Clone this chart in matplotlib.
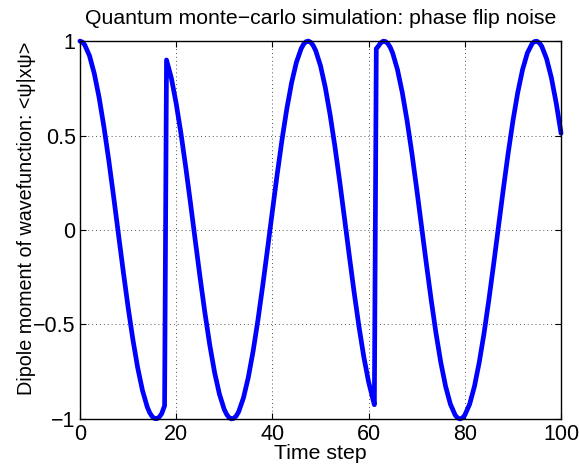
import matplotlib
matplotlib.use("Agg")
import matplotlib.pyplot as plt

# Dipole moment <psi|x psi>, in three pieces split at the phase flips
seg1_t = [0, 0.5, 1, 2, 3, 4, 5, 6, 7, 8, 9, 10, 11, 12, 13, 14, 14.5, 15, 15.5, 16,
          16.5, 17, 17.6]
seg1_y = [1.000, 0.995, 0.980, 0.922, 0.827, 0.700, 0.545, 0.369, 0.178, -0.020, -0.217,
          -0.406, -0.578, -0.728, -0.849, -0.937, -0.967, -0.987, -0.998, -0.999,
          -0.990, -0.972, -0.930]

seg2_t = [18, 19, 20, 21, 22, 23, 24, 25, 26, 27, 28, 29, 30, 30.5, 31, 31.5, 32, 32.5,
          33, 34, 35, 36, 37, 38, 39, 40, 41, 42, 43, 44, 45, 46, 46.5, 47, 47.5, 48,
          48.5, 49, 50, 51, 52, 53, 54, 55, 56, 57, 58, 59, 60, 61, 61.2]
seg2_y = [0.900, 0.805, 0.671, 0.512, 0.332, 0.139, -0.060, -0.256, -0.442, -0.610,
          -0.755, -0.869, -0.950, -0.976, -0.993, -1.000, -0.997, -0.984,
          -0.962, -0.888, -0.780, -0.641, -0.477, -0.294, -0.100, 0.099, 0.294, 0.477,
          0.641, 0.780, 0.888, 0.961, 0.984, 0.997, 1.000, 0.993,
          0.976, 0.950, 0.870, 0.755, 0.610, 0.442, 0.256, 0.060, -0.138, -0.331,
          -0.511, -0.671, -0.804, -0.906, -0.925]

seg3_t = [61.6, 62, 62.5, 63, 63.5, 64, 64.5, 65, 66, 67, 68, 69, 70, 71, 72, 73, 74,
          75, 76, 77, 78, 78.5, 79, 79.5, 80, 81, 82, 83, 84, 85, 86, 87, 88, 89, 90,
          91, 92, 93, 94, 94.5, 95, 95.5, 96, 97, 98, 99, 100]
seg3_y = [0.960, 0.972, 0.990, 0.999, 0.998, 0.987, 0.967, 0.937, 0.849, 0.728, 0.578,
          0.406, 0.217, 0.020, -0.178, -0.368, -0.545,
          -0.700, -0.827, -0.922, -0.980, -0.995, -1.000, -0.995, -0.980, -0.922, -0.828,
          -0.700, -0.546, -0.369, -0.179, 0.019, 0.216, 0.405, 0.578,
          0.728, 0.849, 0.937, 0.987, 0.998, 0.999, 0.990, 0.972, 0.906, 0.805, 0.671,
          0.512]

time_steps = seg1_t + seg2_t + seg3_t
dipole = seg1_y + seg2_y + seg3_y

x_ticks = [0, 20, 40, 60, 80, 100]
y_ticks = [-1, -0.5, 0, 0.5, 1]
y_tick_labels = ["\u22121", "\u22120.5", "0", "0.5", "1"]

plt.rcParams['font.family'] = ['Liberation Sans', 'DejaVu Sans']

fig = plt.figure(figsize=(5.79, 4.67), dpi=100)
ax = fig.add_axes([0.138, 0.103, 0.831, 0.809])

ax.plot(time_steps, dipole, color=(0, 0, 1), linewidth=3.4, clip_on=False,
        solid_joinstyle='round', solid_capstyle='round', zorder=3)

ax.set_xlim(0, 100)
ax.set_ylim(-1, 1)
ax.set_xticks(x_ticks)
ax.set_xticklabels([str(v) for v in x_ticks])
ax.set_yticks(y_ticks)
ax.set_yticklabels(y_tick_labels)

ax.grid(True, linestyle=(0, (1, 3)), color='#555555', linewidth=0.7)
ax.tick_params(direction='in', top=True, right=True, length=4, width=0.8,
               labelsize=15.5)
ax.tick_params(axis='x', pad=4)
ax.tick_params(axis='y', pad=3)
for s in ax.spines.values():
    s.set_linewidth(1.0)
    s.set_zorder(4)

ax.set_title("Quantum monte\u2212carlo simulation: phase flip noise", fontsize=15.3, pad=12)
ax.set_xlabel("Time step", fontsize=15.3, labelpad=-1)
ax.set_ylabel("Dipole moment of wavefunction: <\u03c8|x\u03c8>", fontsize=14.2,
              labelpad=-2, y=0.532)

fig.savefig("out.png", dpi=100)
